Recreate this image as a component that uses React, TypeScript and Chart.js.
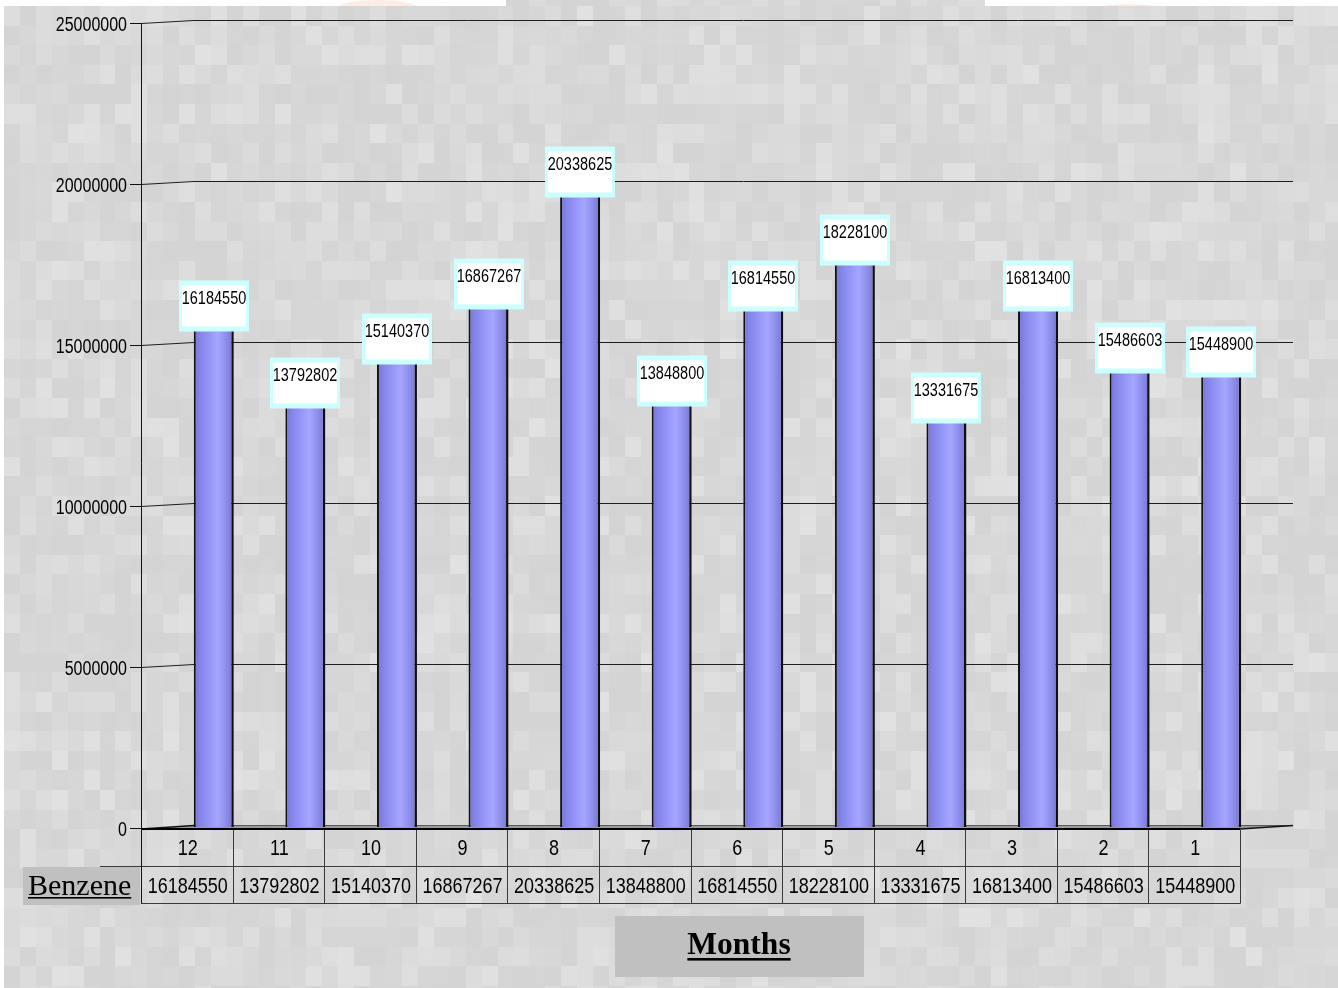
import React, { useEffect, useRef } from 'react';
import { Chart, registerables } from 'chart.js';

Chart.register(...registerables);

// ---- data ----
const MONTHS = ['12', '11', '10', '9', '8', '7', '6', '5', '4', '3', '2', '1'];
const BENZENE = [
  16184550, 13792802, 15140370, 16867267, 20338625, 13848800,
  16814550, 18228100, 13331675, 16813400, 15486603, 15448900,
];
const Y_TICKS = [0, 5000000, 10000000, 15000000, 20000000, 25000000];
const SERIES_NAME = 'Benzene';
const AXIS_TITLE = 'Months';

// ---- look ----
const W = 1338;
const H = 988;
const SANS = '"Liberation Sans", Arial, sans-serif';
const SERIF = '"Liberation Serif", "Times New Roman", serif';
const TEXT_STRETCH = 1.23; // text is drawn slightly tall
const BACK_DX = 53; // back wall offset of the 3D box
const BACK_DY = -3;
const BAR_DX = 27; // bars stand mid-depth
const BAR_DY = -1;
const BAR_PCT = 0.437;
// extra drop for the two labels crowded at the right end
const LABEL_DROP = [0, 0, 0, 0, 0, 0, 0, 0, 0, 0, 20, 22];

function tileShade(i: number, j: number): number {
  const h = Math.sin(i * 127.1 + j * 311.7) * 43758.5453;
  return h - Math.floor(h);
}

function paintBackdrop(ctx: CanvasRenderingContext2D) {
  ctx.save();
  ctx.fillStyle = '#ffffff';
  ctx.fillRect(0, 0, W, H);
  const tw = 15.92;
  const th = 19.6;
  const ox = 4;
  const oy = 6 - th;
  for (let j = 0; oy + j * th < H; j++) {
    for (let i = 0; ox + i * tw < W; i++) {
      const s = tileShade(i, j);
      const g = Math.round(212 + s * s * 13);
      ctx.fillStyle = `rgb(${g},${g},${g})`;
      const x0 = Math.round(ox + i * tw);
      const x1 = Math.round(ox + (i + 1) * tw);
      const y0 = Math.round(oy + j * th);
      const y1 = Math.round(oy + (j + 1) * th);
      ctx.fillRect(x0, y0, x1 - x0, y1 - y0);
    }
  }
  // white page margin along the top and left
  ctx.fillStyle = '#ffffff';
  ctx.fillRect(0, 0, 506, 6);
  ctx.fillRect(985, 0, W - 985, 6);
  ctx.fillRect(0, 0, 4, H);
  // faint orange shapes peeking in the top margin
  ctx.beginPath();
  ctx.rect(0, 0, 506, 6);
  ctx.rect(985, 0, W - 985, 6);
  ctx.clip();
  ctx.fillStyle = 'rgba(250, 200, 180, 0.35)';
  ctx.beginPath();
  ctx.ellipse(378, 8, 40, 8, 0, 0, Math.PI * 2);
  ctx.fill();
  ctx.beginPath();
  ctx.ellipse(1128, 14, 42, 10, 0, 0, Math.PI * 2);
  ctx.fill();
  ctx.restore();
}

function tallText(
  ctx: CanvasRenderingContext2D,
  text: string,
  x: number,
  cy: number,
  size: number,
  align: CanvasTextAlign,
) {
  ctx.save();
  ctx.font = `${size}px ${SANS}`;
  ctx.textAlign = align;
  ctx.textBaseline = 'alphabetic';
  ctx.fillStyle = '#000000';
  ctx.translate(x, cy);
  ctx.scale(1, TEXT_STRETCH);
  ctx.fillText(text, 0, 0.358 * size);
  ctx.restore();
}

function underlinedSerif(
  ctx: CanvasRenderingContext2D,
  text: string,
  x: number,
  baseline: number,
  font: string,
  align: CanvasTextAlign,
  lineY: number,
  lineW: number,
) {
  ctx.save();
  ctx.font = font;
  ctx.textAlign = align;
  ctx.textBaseline = 'alphabetic';
  ctx.fillStyle = '#000000';
  ctx.fillText(text, x, baseline);
  const w = ctx.measureText(text).width;
  const start = align === 'center' ? x - w / 2 : x;
  ctx.fillRect(start, lineY, w, lineW);
  ctx.restore();
}

const scenePlugin = {
  id: 'benzeneScene',
  beforeDraw(chart: any) {
    paintBackdrop(chart.ctx);
  },
  beforeDatasetsDraw(chart: any) {
    const ctx: CanvasRenderingContext2D = chart.ctx;
    const { left, right } = chart.chartArea;
    const xs = chart.scales.x;
    const ys = chart.scales.y;
    const y0 = ys.getPixelForValue(0);

    ctx.save();
    // back wall gridlines with their receding ends
    ctx.strokeStyle = '#1e1e1e';
    ctx.lineWidth = 1;
    for (const v of Y_TICKS) {
      if (v === 0) continue;
      const y = Math.round(ys.getPixelForValue(v)) + 0.5;
      ctx.beginPath();
      ctx.moveTo(left, y);
      ctx.lineTo(left + BACK_DX, y + BACK_DY);
      ctx.lineTo(right + BACK_DX, y + BACK_DY);
      ctx.stroke();
    }

    // floor slab
    const fy = Math.round(y0) + 1;
    ctx.fillStyle = '#9a9a9a';
    ctx.beginPath();
    ctx.moveTo(left, fy);
    ctx.lineTo(right, fy);
    ctx.lineTo(right + BACK_DX, fy + BACK_DY - 0.5);
    ctx.lineTo(left + BACK_DX, fy + BACK_DY - 0.5);
    ctx.closePath();
    ctx.fill();
    ctx.strokeStyle = '#5a5a5a';
    ctx.beginPath();
    ctx.moveTo(left + BACK_DX, fy + BACK_DY - 0.5);
    ctx.lineTo(right + BACK_DX, fy + BACK_DY - 0.5);
    ctx.stroke();
    ctx.strokeStyle = '#111111';
    ctx.lineWidth = 1.5;
    ctx.beginPath();
    ctx.moveTo(left, fy);
    ctx.lineTo(left + BACK_DX, fy + BACK_DY - 0.5);
    ctx.moveTo(right, fy);
    ctx.lineTo(right + BACK_DX, fy + BACK_DY - 0.5);
    ctx.stroke();
    ctx.strokeStyle = '#000000';
    ctx.lineWidth = 2;
    ctx.beginPath();
    ctx.moveTo(left, fy);
    ctx.lineTo(right, fy);
    ctx.stroke();

    // data table under the plot
    const rowMid = 866.5;
    const rowBottom = 903.5;
    ctx.fillStyle = '#c0c0c0';
    ctx.fillRect(23, 867, 117, 38);
    ctx.strokeStyle = '#3a3a3a';
    ctx.lineWidth = 1;
    const n = MONTHS.length;
    const edges: number[] = [left];
    for (let i = 0; i < n - 1; i++) {
      edges.push((xs.getPixelForValue(i) + xs.getPixelForValue(i + 1)) / 2);
    }
    edges.push(right);
    ctx.beginPath();
    for (const e of edges) {
      const x = Math.round(e) + 0.5;
      ctx.moveTo(x, fy + 1);
      ctx.lineTo(x, rowBottom);
    }
    ctx.moveTo(100, rowMid);
    ctx.lineTo(right, rowMid);
    ctx.moveTo(left, rowBottom);
    ctx.lineTo(right + 0.5, rowBottom);
    ctx.stroke();
    for (let i = 0; i < n; i++) {
      const cx = (edges[i] + edges[i + 1]) / 2;
      tallText(ctx, MONTHS[i], cx + 1, 847.5, 18, 'center');
      tallText(ctx, String(BENZENE[i]), cx + 1, 885, 18, 'center');
    }
    underlinedSerif(ctx, SERIES_NAME, 28, 895, `30px ${SERIF}`, 'left', 897, 1.6);

    // value axis: line, tick marks and labels
    const ax = Math.round(left) + 0.5;
    ctx.strokeStyle = '#111111';
    ctx.lineWidth = 1;
    ctx.beginPath();
    ctx.moveTo(ax, Math.round(ys.getPixelForValue(Y_TICKS[Y_TICKS.length - 1])));
    ctx.lineTo(ax, rowBottom);
    for (const v of Y_TICKS) {
      const y = Math.round(ys.getPixelForValue(v)) + 0.5;
      ctx.moveTo(130, y);
      ctx.lineTo(ax, y);
    }
    ctx.stroke();
    for (const v of Y_TICKS) {
      tallText(ctx, String(v), 127, ys.getPixelForValue(v) + 0.5, 16, 'right');
    }

    // axis title box
    ctx.fillStyle = '#c0c0c0';
    ctx.fillRect(615, 916, 249, 61);
    underlinedSerif(ctx, AXIS_TITLE, 739, 954, `bold 31.5px ${SERIF}`, 'center', 958, 2.6);
    ctx.restore();

    // shift the bars back to mid-depth
    ctx.save();
    ctx.translate(BAR_DX, BAR_DY);
  },
  afterDatasetsDraw(chart: any) {
    const ctx: CanvasRenderingContext2D = chart.ctx;
    ctx.restore();
    const meta = chart.getDatasetMeta(0);
    const bw = 70;
    const bh = 51;
    meta.data.forEach((bar: any, i: number) => {
      const cx = Math.round(bar.x + BAR_DX);
      const cy = Math.round(bar.y + BAR_DY) + LABEL_DROP[i];
      const x = cx - bw / 2;
      const y = cy - bh / 2;
      ctx.save();
      ctx.fillStyle = '#ccffff';
      ctx.fillRect(x, y, bw, bh);
      ctx.fillStyle = '#ffffff';
      ctx.fillRect(x + 3, y + 5, bw - 6, bh - 10);
      ctx.restore();
      tallText(ctx, String(BENZENE[i]), cx, y + 17, 14.5, 'center');
    });
  },
};

function barFill(c: any) {
  const chart = c.chart;
  const xs = chart.scales && chart.scales.x;
  if (!xs || c.type !== 'data' || !chart.chartArea) return '#9494f4';
  const cx = xs.getPixelForValue(c.dataIndex);
  const half = ((xs.width / MONTHS.length) * BAR_PCT) / 2;
  const g = chart.ctx.createLinearGradient(cx - half, 0, cx + half, 0);
  g.addColorStop(0, '#7272d2');
  g.addColorStop(0.15, '#8484e8');
  g.addColorStop(0.42, '#9898fa');
  g.addColorStop(0.6, '#a6a6ff');
  g.addColorStop(0.75, '#9494f2');
  g.addColorStop(0.9, '#8282de');
  g.addColorStop(1, '#6c6cc4');
  return g;
}

export default function App() {
  const canvasRef = useRef<HTMLCanvasElement | null>(null);

  useEffect(() => {
    const canvas = canvasRef.current;
    if (!canvas) return;
    const chart = new Chart(canvas, {
      type: 'bar',
      data: {
        labels: MONTHS,
        datasets: [
          {
            label: SERIES_NAME,
            data: BENZENE,
            backgroundColor: barFill,
            borderColor: '#101010',
            borderWidth: { left: 2, right: 2.5, top: 0, bottom: 0 },
            borderSkipped: false,
            barPercentage: BAR_PCT,
            categoryPercentage: 1,
            clip: false as any,
          },
        ],
      },
      options: {
        responsive: false,
        maintainAspectRatio: false,
        animation: false,
        devicePixelRatio: 1,
        layout: { padding: { left: 141, right: 98, top: 23, bottom: 160 } },
        scales: {
          x: { display: false, offset: true },
          y: {
            display: false,
            min: Y_TICKS[0],
            max: Y_TICKS[Y_TICKS.length - 1],
            ticks: { stepSize: Y_TICKS[1] - Y_TICKS[0] },
          },
        },
        plugins: {
          legend: { display: false },
          tooltip: { enabled: false },
        },
      },
      plugins: [scenePlugin],
    });
    return () => chart.destroy();
  }, []);

  return (
    <div style={{ position: 'absolute', left: 0, top: 0, width: W, height: H }}>
      <canvas ref={canvasRef} width={W} height={H} style={{ display: 'block' }} />
    </div>
  );
}
